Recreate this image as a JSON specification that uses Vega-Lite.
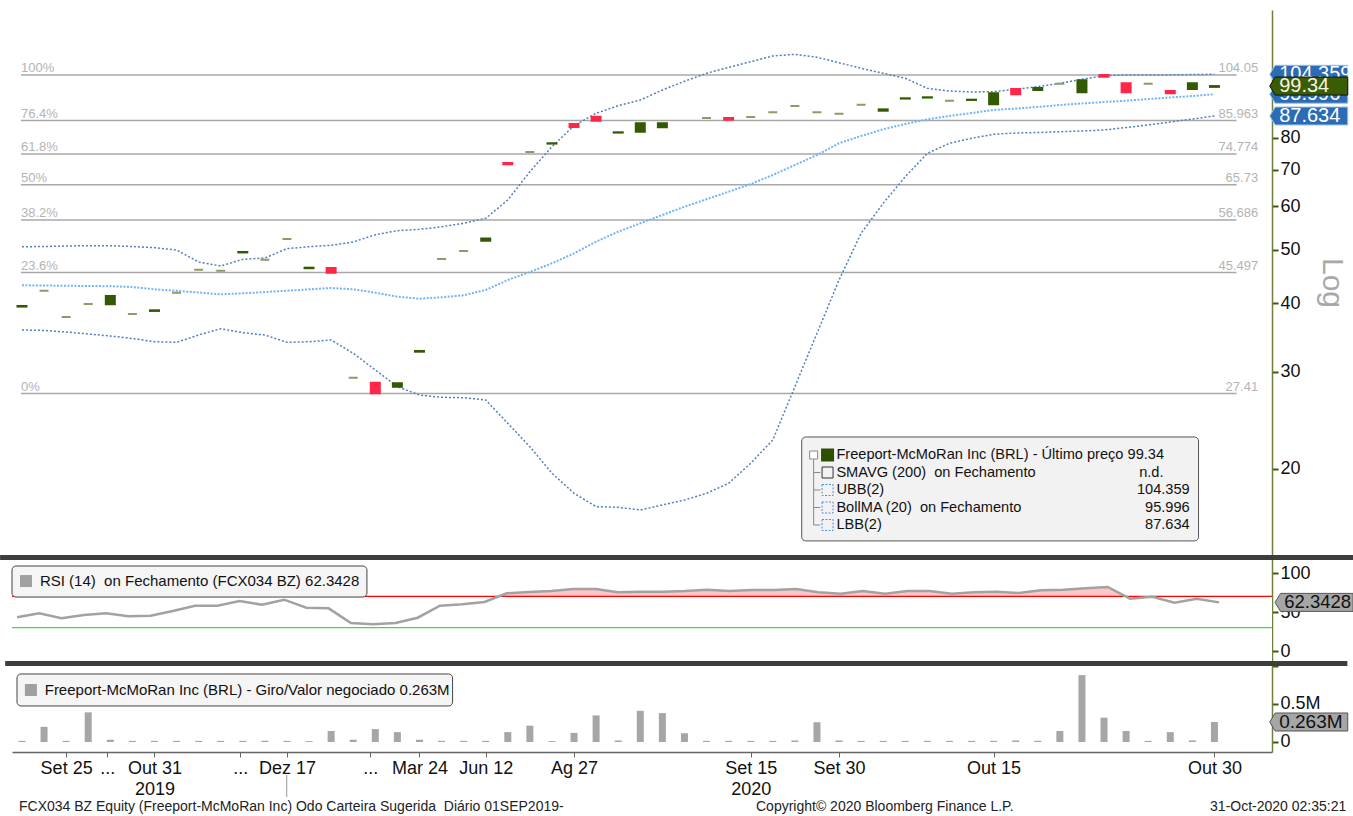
{
"$schema":"https://vega.github.io/schema/vega-lite/v6.json",
"padding":{"left":0,"top":10,"right":0,"bottom":0},
"background":"#ffffff",
"bounds":"flush",
"spacing":0,
"config":{"view":{"stroke":null},"font":"Liberation Sans","axis":{"grid":false,"labelFont":"Liberation Sans","titleFont":"Liberation Sans"}},
"resolve":{"scale":{"x":"independent","y":"independent"}},
"datasets":{
"px":[
{"i":0,"o":39.45,"c":39.55,"u":50.69,"m":43.13,"l":35.77,"rsi":43.2,"vol":0.015},
{"i":1,"o":42.16,"c":42.16,"u":50.73,"m":43.09,"l":35.70,"rsi":48.3,"vol":0.20},
{"i":2,"o":37.77,"c":37.77,"u":50.84,"m":43.04,"l":35.47,"rsi":41.9,"vol":0.015},
{"i":3,"o":39.88,"c":39.88,"u":50.91,"m":43.01,"l":35.17,"rsi":46.2,"vol":0.39},
{"i":4,"o":39.83,"c":41.24,"u":50.91,"m":42.96,"l":34.88,"rsi":48.3,"vol":0.03},
{"i":5,"o":38.25,"c":38.25,"u":50.73,"m":42.82,"l":34.51,"rsi":44.5,"vol":0.015},
{"i":6,"o":38.74,"c":38.84,"u":50.48,"m":42.41,"l":34.05,"rsi":45.3,"vol":0.015},
{"i":7,"o":41.81,"c":41.81,"u":50.00,"m":42.16,"l":33.97,"rsi":51.3,"vol":0.015},
{"i":8,"o":46.04,"c":46.04,"u":47.55,"m":41.85,"l":35.02,"rsi":58.1,"vol":0.015},
{"i":9,"o":45.85,"c":45.85,"u":46.76,"m":41.53,"l":35.96,"rsi":58.1,"vol":0.015},
{"i":10,"o":49.49,"c":49.59,"u":48.09,"m":41.70,"l":35.37,"rsi":64.1,"vol":0.015},
{"i":11,"o":48.01,"c":48.01,"u":48.35,"m":41.93,"l":35.02,"rsi":59.4,"vol":0.015},
{"i":12,"o":52.36,"c":52.36,"u":50.28,"m":42.16,"l":33.97,"rsi":65.8,"vol":0.015},
{"i":13,"o":46.33,"c":46.43,"u":50.69,"m":42.41,"l":34.05,"rsi":55.5,"vol":0.012},
{"i":14,"o":46.37,"c":45.47,"u":50.99,"m":42.64,"l":34.30,"rsi":54.7,"vol":0.145},
{"i":15,"o":29.29,"c":29.29,"u":51.71,"m":42.41,"l":32.44,"rsi":35.9,"vol":0.03},
{"i":16,"o":28.68,"c":27.45,"u":53.31,"m":41.81,"l":30.26,"rsi":34.2,"vol":0.17},
{"i":17,"o":28.21,"c":28.62,"u":54.21,"m":41.12,"l":28.21,"rsi":35.9,"vol":0.13},
{"i":18,"o":32.66,"c":32.76,"u":54.52,"m":40.78,"l":27.24,"rsi":42.7,"vol":0.03},
{"i":19,"o":48.15,"c":48.15,"u":55.12,"m":41.02,"l":26.98,"rsi":58.1,"vol":0.015},
{"i":20,"o":49.80,"c":49.80,"u":55.92,"m":41.36,"l":26.94,"rsi":59.9,"vol":0.015},
{"i":21,"o":52.0,"c":52.45,"u":57.10,"m":42.29,"l":26.68,"rsi":62.8,"vol":0.015},
{"i":22,"o":71.98,"c":71.59,"u":61.65,"m":44.10,"l":24.20,"rsi":74.0,"vol":0.13},
{"i":23,"o":75.37,"c":75.37,"u":69.40,"m":45.60,"l":21.94,"rsi":75.6,"vol":0.215},
{"i":24,"o":78.07,"c":78.17,"u":77.06,"m":47.29,"l":19.63,"rsi":76.9,"vol":0.012},
{"i":25,"o":84.75,"c":83.69,"u":84.15,"m":49.31,"l":18.05,"rsi":79.5,"vol":0.12},
{"i":26,"o":87.38,"c":85.92,"u":88.63,"m":51.77,"l":17.07,"rsi":79.5,"vol":0.35},
{"i":27,"o":81.75,"c":81.85,"u":91.49,"m":53.98,"l":17.02,"rsi":75.3,"vol":0.02},
{"i":28,"o":82.06,"c":85.00,"u":93.71,"m":55.92,"l":16.83,"rsi":76.0,"vol":0.41},
{"i":29,"o":83.59,"c":85.00,"u":97.71,"m":57.89,"l":17.19,"rsi":76.0,"vol":0.38},
{"i":30,"o":null,"c":null,"u":101.34,"m":59.94,"l":17.55,"rsi":76.9,"vol":0.115},
{"i":31,"o":86.91,"c":86.91,"u":104.79,"m":61.83,"l":18.05,"rsi":78.6,"vol":0.015},
{"i":32,"o":86.91,"c":86.29,"u":107.46,"m":63.82,"l":18.82,"rsi":76.9,"vol":0.015},
{"i":33,"o":87.27,"c":87.27,"u":110.01,"m":65.92,"l":20.47,"rsi":78.2,"vol":0.015},
{"i":34,"o":89.01,"c":89.01,"u":112.66,"m":68.44,"l":22.57,"rsi":78.2,"vol":0.015},
{"i":35,"o":91.39,"c":91.39,"u":113.47,"m":71.38,"l":28.21,"rsi":79.5,"vol":0.02},
{"i":36,"o":89.01,"c":89.01,"u":112.05,"m":74.43,"l":35.27,"rsi":75.3,"vol":0.26},
{"i":37,"o":88.48,"c":88.48,"u":109.54,"m":78.17,"l":44.10,"rsi":73.5,"vol":0.02},
{"i":38,"o":91.88,"c":91.88,"u":107.01,"m":80.60,"l":53.63,"rsi":76.9,"vol":0.015},
{"i":39,"o":89.6,"c":90.1,"u":104.79,"m":82.89,"l":60.80,"rsi":73.5,"vol":0.015},
{"i":40,"o":94.27,"c":94.37,"u":102.62,"m":84.75,"l":67.97,"rsi":76.9,"vol":0.015},
{"i":41,"o":94.67,"c":94.77,"u":98.41,"m":86.43,"l":74.96,"rsi":76.9,"vol":0.015},
{"i":42,"o":93.44,"c":93.44,"u":97.31,"m":87.63,"l":78.17,"rsi":73.5,"vol":0.015},
{"i":43,"o":93.73,"c":93.83,"u":96.90,"m":88.74,"l":79.83,"rsi":75.3,"vol":0.015},
{"i":44,"o":92.03,"c":96.37,"u":97.03,"m":89.87,"l":81.17,"rsi":76.0,"vol":0.015},
{"i":45,"o":98.13,"c":95.97,"u":98.00,"m":90.43,"l":81.61,"rsi":74.4,"vol":0.02},
{"i":46,"o":97.71,"c":98.55,"u":99.08,"m":91.00,"l":81.78,"rsi":77.8,"vol":0.015},
{"i":47,"o":100.32,"c":100.32,"u":100.49,"m":91.77,"l":82.06,"rsi":78.6,"vol":0.145},
{"i":48,"o":96.78,"c":101.76,"u":102.20,"m":92.35,"l":82.30,"rsi":80.4,"vol":0.88},
{"i":49,"o":104.05,"c":103.31,"u":103.75,"m":92.93,"l":82.65,"rsi":82.1,"vol":0.32},
{"i":50,"o":100.49,"c":96.78,"u":104.05,"m":93.44,"l":83.51,"rsi":67.1,"vol":0.145},
{"i":51,"o":100.32,"c":100.32,"u":104.05,"m":94.10,"l":84.40,"rsi":69.6,"vol":0.015},
{"i":52,"o":97.31,"c":96.40,"u":104.10,"m":94.70,"l":85.47,"rsi":61.9,"vol":0.13},
{"i":53,"o":98.13,"c":100.49,"u":104.25,"m":95.29,"l":86.54,"rsi":67.1,"vol":0.02},
{"i":54,"o":99.0,"c":99.34,"u":104.359,"m":95.996,"l":87.634,"rsi":62.3428,"vol":0.263}
],
"fib":[
{"lvl":"100%","v":104.05,"lab":"104.05"},
{"lvl":"76.4%","v":85.963,"lab":"85.963"},
{"lvl":"61.8%","v":74.774,"lab":"74.774"},
{"lvl":"50%","v":65.73,"lab":"65.73"},
{"lvl":"38.2%","v":56.686,"lab":"56.686"},
{"lvl":"23.6%","v":45.497,"lab":"45.497"},
{"lvl":"0%","v":27.41,"lab":"27.41"}
],
"tags":[
{"s":"UBB","v":104.359,"t":"104.359"},
{"s":"BollMA","v":95.996,"t":"95.996"},
{"s":"LBB","v":87.634,"t":"87.634"},
{"s":"Last","v":99.34,"t":"99.34"}
],
"leg":[
{"r":0,"t":"Freeport-McMoRan Inc (BRL) - Último preço 99.34","v":"","nd":""},
{"r":1,"t":"SMAVG (200)\u00a0 on Fechamento","v":"","nd":"n.d."},
{"r":2,"t":"UBB(2)","v":"104.359","nd":""},
{"r":3,"t":"BollMA (20)\u00a0 on Fechamento","v":"95.996","nd":""},
{"r":4,"t":"LBB(2)","v":"87.634","nd":""}
],
"one":[{"k":1}]
},
"vconcat":[
{
"width":1260,"height":545,
"resolve":{"scale":{"y":"independent"}},
"layer":[
{"layer":[
{"data":{"name":"fib"},"mark":{"type":"rule","color":"#a8a8a8","strokeWidth":1.5},
"encoding":{"x":{"datum":-0.045,"type":"quantitative","scale":{"domain":[-0.225,56.38],"nice":false,"zero":false},"axis":null},"x2":{"datum":55.0},
"y":{"field":"v","type":"quantitative","scale":{"type":"log","domain":[13.94,136.6],"nice":false},
"axis":{"orient":"right","values":[20,30,40,50,60,70,80],"format":"d","labelFontSize":18,"labelColor":"#111111","domainColor":"#6e8040","domainWidth":1.5,"tickColor":"#3d5a10","tickSize":6,"tickWidth":2,"labelPadding":2,"title":"Log","titleFontSize":30,"titleColor":"#a8a8a8","titleFontWeight":"normal","titlePadding":16}}}},
{"data":{"name":"fib"},"mark":{"type":"text","align":"left","baseline":"alphabetic","dy":-3,"fontSize":13,"color":"#b4b4b4"},
"encoding":{"x":{"datum":-0.045,"type":"quantitative","scale":{"domain":[-0.225,56.38],"nice":false,"zero":false},"axis":null},
"y":{"field":"v","type":"quantitative","scale":{"type":"log","domain":[13.94,136.6],"nice":false}},"text":{"field":"lvl"}}},
{"data":{"name":"fib"},"mark":{"type":"text","align":"right","baseline":"alphabetic","dy":-3,"fontSize":13,"color":"#b4b4b4"},
"encoding":{"x":{"datum":55.98,"type":"quantitative","scale":{"domain":[-0.225,56.38],"nice":false,"zero":false},"axis":null},
"y":{"field":"v","type":"quantitative","scale":{"type":"log","domain":[13.94,136.6],"nice":false}},"text":{"field":"lab"}}},
{"data":{"name":"px"},"mark":{"type":"line","color":"#4f7fc0","strokeWidth":1.5,"strokeDash":[2,2]},
"encoding":{"x":{"field":"i","type":"quantitative","scale":{"domain":[-0.225,56.38],"nice":false,"zero":false},"axis":null},
"y":{"field":"u","type":"quantitative","scale":{"type":"log","domain":[13.94,136.6],"nice":false}}}},
{"data":{"name":"px"},"mark":{"type":"line","color":"#6fb4fa","strokeWidth":2,"strokeDash":[2,1.5]},
"encoding":{"x":{"field":"i","type":"quantitative","scale":{"domain":[-0.225,56.38],"nice":false,"zero":false},"axis":null},
"y":{"field":"m","type":"quantitative","scale":{"type":"log","domain":[13.94,136.6],"nice":false}}}},
{"data":{"name":"px"},"mark":{"type":"line","color":"#4f7fc0","strokeWidth":1.5,"strokeDash":[2,2]},
"encoding":{"x":{"field":"i","type":"quantitative","scale":{"domain":[-0.225,56.38],"nice":false,"zero":false},"axis":null},
"y":{"field":"l","type":"quantitative","scale":{"type":"log","domain":[13.94,136.6],"nice":false}}}},
{"data":{"name":"px"},"transform":[{"filter":"datum.o != null"}],"mark":{"type":"bar","width":9,"strokeWidth":2},
"encoding":{"x":{"field":"i","type":"quantitative","scale":{"domain":[-0.225,56.38],"nice":false,"zero":false},"axis":null},
"y":{"field":"o","type":"quantitative","scale":{"type":"log","domain":[13.94,136.6],"nice":false}},"y2":{"field":"c"},
"fill":{"condition":[{"test":"datum.c > datum.o","value":"#335a00"},{"test":"datum.c < datum.o","value":"#ff2648"}],"value":"#8c9b6a"},
"stroke":{"condition":[{"test":"datum.c > datum.o","value":"#335a00"},{"test":"datum.c < datum.o","value":"#ff2648"}],"value":"#8c9b6a"}}},
{"data":{"name":"tags"},"transform":[{"filter":"datum.s != 'Last'"}],
"mark":{"type":"point","shape":"M -1 0 L -0.86 -0.2308 L 1 -0.2308 L 1 0.2308 L -0.86 0.2308 Z","size":6084,"filled":true,"fill":"#2b6cb4","stroke":"#9cc3ec","strokeWidth":1,"opacity":1},
"encoding":{"x":{"datum":58.27,"type":"quantitative","scale":{"domain":[-0.225,56.38],"nice":false,"zero":false},"axis":null},
"y":{"field":"v","type":"quantitative","scale":{"type":"log","domain":[13.94,136.6],"nice":false}}}},
{"data":{"name":"tags"},"transform":[{"filter":"datum.s != 'Last'"}],
"mark":{"type":"text","align":"left","baseline":"middle","fontSize":20,"color":"#ffffff"},
"encoding":{"x":{"datum":56.93,"type":"quantitative","scale":{"domain":[-0.225,56.38],"nice":false,"zero":false},"axis":null},
"y":{"field":"v","type":"quantitative","scale":{"type":"log","domain":[13.94,136.6],"nice":false}},"text":{"field":"t"}}},
{"data":{"name":"tags"},"transform":[{"filter":"datum.s == 'Last'"}],
"mark":{"type":"point","shape":"M -1 0 L -0.86 -0.2308 L 1 -0.2308 L 1 0.2308 L -0.86 0.2308 Z","size":6084,"filled":true,"fill":"#3a5c05","stroke":"#111111","strokeWidth":1,"opacity":1},
"encoding":{"x":{"datum":58.27,"type":"quantitative","scale":{"domain":[-0.225,56.38],"nice":false,"zero":false},"axis":null},
"y":{"field":"v","type":"quantitative","scale":{"type":"log","domain":[13.94,136.6],"nice":false}}}},
{"data":{"name":"tags"},"transform":[{"filter":"datum.s == 'Last'"}],
"mark":{"type":"text","align":"left","baseline":"middle","fontSize":20,"color":"#f4f4e0"},
"encoding":{"x":{"datum":56.93,"type":"quantitative","scale":{"domain":[-0.225,56.38],"nice":false,"zero":false},"axis":null},
"y":{"field":"v","type":"quantitative","scale":{"type":"log","domain":[13.94,136.6],"nice":false}},"text":{"field":"t"}}}
]},
{"layer":[
{"data":{"name":"one"},"mark":{"type":"rect","fill":"#f2f2f2","stroke":"#555555","strokeWidth":1,"cornerRadius":4},
"encoding":{"x":{"datum":35.31,"type":"quantitative","scale":{"domain":[-0.225,56.38],"nice":false,"zero":false},"axis":null},"x2":{"datum":53.28},
"y":{"datum":-1.03,"type":"quantitative","scale":{"domain":[-25.43,5.714],"reverse":true,"nice":false,"zero":false},"axis":null},"y2":{"datum":4.91}}},
{"data":{"name":"one"},"mark":{"type":"rule","color":"#888888","strokeWidth":1},
"encoding":{"x":{"datum":35.85,"type":"quantitative","scale":{"domain":[-0.225,56.38],"nice":false,"zero":false},"axis":null},
"y":{"datum":0.25,"type":"quantitative","scale":{"domain":[-25.43,5.714],"reverse":true,"nice":false,"zero":false},"axis":null},"y2":{"datum":4.0}}},
{"data":{"name":"leg"},"transform":[{"filter":"datum.r > 0"}],"mark":{"type":"rule","color":"#888888","strokeWidth":1},
"encoding":{"x":{"datum":35.85,"type":"quantitative","scale":{"domain":[-0.225,56.38],"nice":false,"zero":false},"axis":null},"x2":{"datum":36.15},
"y":{"field":"r","type":"quantitative","scale":{"domain":[-25.43,5.714],"reverse":true,"nice":false,"zero":false},"axis":null}}},
{"data":{"name":"leg"},"transform":[{"filter":"datum.r == 0"}],"mark":{"type":"point","shape":"square","size":64,"filled":true,"fill":"#ffffff","stroke":"#888888","strokeWidth":1,"opacity":1},
"encoding":{"x":{"datum":35.85,"type":"quantitative","scale":{"domain":[-0.225,56.38],"nice":false,"zero":false},"axis":null},
"y":{"field":"r","type":"quantitative","scale":{"domain":[-25.43,5.714],"reverse":true,"nice":false,"zero":false},"axis":null}}},
{"data":{"name":"leg"},"transform":[{"filter":"datum.r == 0"}],"mark":{"type":"point","shape":"square","size":169,"filled":true,"fill":"#2d5000","opacity":1},
"encoding":{"x":{"datum":36.48,"type":"quantitative","scale":{"domain":[-0.225,56.38],"nice":false,"zero":false},"axis":null},
"y":{"field":"r","type":"quantitative","scale":{"domain":[-25.43,5.714],"reverse":true,"nice":false,"zero":false},"axis":null}}},
{"data":{"name":"leg"},"transform":[{"filter":"datum.r == 1"}],"mark":{"type":"point","shape":"square","size":121,"filled":false,"stroke":"#333333","strokeWidth":1,"opacity":1},
"encoding":{"x":{"datum":36.48,"type":"quantitative","scale":{"domain":[-0.225,56.38],"nice":false,"zero":false},"axis":null},
"y":{"field":"r","type":"quantitative","scale":{"domain":[-25.43,5.714],"reverse":true,"nice":false,"zero":false},"axis":null}}},
{"data":{"name":"leg"},"transform":[{"filter":"datum.r >= 2"}],"mark":{"type":"point","shape":"square","size":121,"filled":false,"stroke":"#4f8fd6","strokeWidth":1,"strokeDash":[2,1.5],"opacity":1},
"encoding":{"x":{"datum":36.48,"type":"quantitative","scale":{"domain":[-0.225,56.38],"nice":false,"zero":false},"axis":null},
"y":{"field":"r","type":"quantitative","scale":{"domain":[-25.43,5.714],"reverse":true,"nice":false,"zero":false},"axis":null}}},
{"data":{"name":"leg"},"mark":{"type":"text","align":"left","baseline":"middle","fontSize":14.6,"color":"#111111"},
"encoding":{"x":{"datum":36.88,"type":"quantitative","scale":{"domain":[-0.225,56.38],"nice":false,"zero":false},"axis":null},
"y":{"field":"r","type":"quantitative","scale":{"domain":[-25.43,5.714],"reverse":true,"nice":false,"zero":false},"axis":null},"text":{"field":"t"}}},
{"data":{"name":"leg"},"mark":{"type":"text","align":"right","baseline":"middle","fontSize":14.6,"color":"#111111"},
"encoding":{"x":{"datum":52.88,"type":"quantitative","scale":{"domain":[-0.225,56.38],"nice":false,"zero":false},"axis":null},
"y":{"field":"r","type":"quantitative","scale":{"domain":[-25.43,5.714],"reverse":true,"nice":false,"zero":false},"axis":null},"text":{"field":"v"}}},
{"data":{"name":"leg"},"mark":{"type":"text","align":"left","baseline":"middle","fontSize":14.6,"color":"#111111"},
"encoding":{"x":{"datum":50.59,"type":"quantitative","scale":{"domain":[-0.225,56.38],"nice":false,"zero":false},"axis":null},
"y":{"field":"r","type":"quantitative","scale":{"domain":[-25.43,5.714],"reverse":true,"nice":false,"zero":false},"axis":null},"text":{"field":"nd"}}}
]}
]
},
{
"width":1260,"height":106,
"layer":[
{"data":{"name":"one"},"mark":{"type":"rect","color":"#3d3d3d"},
"encoding":{"x":{"datum":-0.76,"type":"quantitative","scale":{"domain":[-0.225,56.38],"nice":false,"zero":false},"axis":null},"x2":{"datum":60.02},
"y":{"datum":123.1,"type":"quantitative","scale":{"domain":[-12.82,123.1],"nice":false,"zero":false},
"axis":{"orient":"right","values":[0,25,50,75,100],"labelExpr":"datum.value == 0 || datum.value == 50 || datum.value == 100 ? datum.label : ''","labelFontSize":18,"labelColor":"#111111","domainColor":"#6e8040","domainWidth":1.5,"tickColor":"#3d5a10","tickSize":6,"tickWidth":2,"labelPadding":2,"title":null}},"y2":{"datum":116.7}}},
{"data":{"name":"px"},"mark":{"type":"area","color":"#ffc6c6","opacity":1},
"encoding":{"x":{"field":"i","type":"quantitative","scale":{"domain":[-0.225,56.38],"nice":false,"zero":false},"axis":null},
"y":{"field":"rsi","type":"quantitative","scale":{"domain":[-12.82,123.1],"nice":false,"zero":false}},"y2":{"datum":70}}},
{"data":{"name":"one"},"mark":{"type":"rect","color":"#ffffff"},
"encoding":{"x":{"datum":-0.225,"type":"quantitative","scale":{"domain":[-0.225,56.38],"nice":false,"zero":false},"axis":null},"x2":{"datum":56.38},
"y":{"datum":70,"type":"quantitative","scale":{"domain":[-12.82,123.1],"nice":false,"zero":false}},"y2":{"datum":-12.82}}},
{"data":{"name":"one"},"mark":{"type":"rule","color":"#ff0000","strokeWidth":1.3},
"encoding":{"x":{"datum":-0.225,"type":"quantitative","scale":{"domain":[-0.225,56.38],"nice":false,"zero":false},"axis":null},"x2":{"datum":56.38},
"y":{"datum":70,"type":"quantitative","scale":{"domain":[-12.82,123.1],"nice":false,"zero":false}}}},
{"data":{"name":"one"},"mark":{"type":"rule","color":"#2de82d","strokeWidth":1.3},
"encoding":{"x":{"datum":-0.225,"type":"quantitative","scale":{"domain":[-0.225,56.38],"nice":false,"zero":false},"axis":null},"x2":{"datum":56.38},
"y":{"datum":30,"type":"quantitative","scale":{"domain":[-12.82,123.1],"nice":false,"zero":false}}}},
{"data":{"name":"px"},"mark":{"type":"line","color":"#a2a2a2","strokeWidth":2.5},
"encoding":{"x":{"field":"i","type":"quantitative","scale":{"domain":[-0.225,56.38],"nice":false,"zero":false},"axis":null},
"y":{"field":"rsi","type":"quantitative","scale":{"domain":[-12.82,123.1],"nice":false,"zero":false}}}},
{"data":{"name":"one"},"mark":{"type":"rect","fill":"#f5f5f5","stroke":"#444444","strokeWidth":1,"cornerRadius":4},
"encoding":{"x":{"datum":-0.225,"type":"quantitative","scale":{"domain":[-0.225,56.38],"nice":false,"zero":false},"axis":null},"x2":{"datum":15.72},
"y":{"datum":109.0,"type":"quantitative","scale":{"domain":[-12.82,123.1],"nice":false,"zero":false}},"y2":{"datum":69.2}}},
{"data":{"name":"one"},"mark":{"type":"point","shape":"square","size":144,"filled":true,"fill":"#a0a0a0","opacity":1},
"encoding":{"x":{"datum":0.404,"type":"quantitative","scale":{"domain":[-0.225,56.38],"nice":false,"zero":false},"axis":null},
"y":{"datum":89.7,"type":"quantitative","scale":{"domain":[-12.82,123.1],"nice":false,"zero":false}}}},
{"data":{"name":"one"},"mark":{"type":"text","align":"left","baseline":"middle","fontSize":15,"color":"#111111","text":"RSI (14)\u00a0 on Fechamento (FCX034 BZ) 62.3428"},
"encoding":{"x":{"datum":1.03,"type":"quantitative","scale":{"domain":[-0.225,56.38],"nice":false,"zero":false},"axis":null},
"y":{"datum":89.7,"type":"quantitative","scale":{"domain":[-12.82,123.1],"nice":false,"zero":false}}}},
{"data":{"name":"one"},"mark":{"type":"point","shape":"M -1 0 L -0.86 -0.2308 L 1 -0.2308 L 1 0.2308 L -0.86 0.2308 Z","size":6084,"filled":true,"fill":"#a6a6a6","stroke":"#555555","strokeWidth":1,"opacity":1},
"encoding":{"x":{"datum":58.27,"type":"quantitative","scale":{"domain":[-0.225,56.38],"nice":false,"zero":false},"axis":null},
"y":{"datum":62.3428,"type":"quantitative","scale":{"domain":[-12.82,123.1],"nice":false,"zero":false}}}},
{"data":{"name":"one"},"mark":{"type":"text","align":"left","baseline":"middle","fontSize":18.5,"color":"#111111","text":"62.3428"},
"encoding":{"x":{"datum":56.93,"type":"quantitative","scale":{"domain":[-0.225,56.38],"nice":false,"zero":false},"axis":null},
"y":{"datum":62.3428,"type":"quantitative","scale":{"domain":[-12.82,123.1],"nice":false,"zero":false}}}}
]
},
{
"width":1260,"height":91,
"layer":[
{"data":{"name":"px"},"mark":{"type":"bar","width":7,"color":"#a6a6a6"},
"encoding":{"x":{"field":"i","type":"quantitative","scale":{"domain":[-0.225,56.38],"nice":false,"zero":false},
"axis":{"orient":"bottom","values":[2,3.86,6,9.88,12,15.77,18,21,25,33,37,44,54],
"labelExpr":"datum.value == 2 ? 'Set 25' : (datum.value == 3.86 || datum.value == 9.88 || datum.value == 15.77) ? '...' : datum.value == 6 ? ['Out 31','2019'] : datum.value == 12 ? 'Dez 17' : datum.value == 18 ? 'Mar 24' : datum.value == 21 ? 'Jun 12' : datum.value == 25 ? 'Ag 27' : datum.value == 33 ? ['Set 15','2020'] : datum.value == 37 ? 'Set 30' : datum.value == 44 ? 'Out 15' : 'Out 30'",
"labelFontSize":18,"labelColor":"#111111","domainColor":"#666666","domainWidth":1.5,"tickColor":"#666666","tickSize":5,"labelPadding":2,"labelLineHeight":21,"labelOverlap":false,"labelFlush":false,"labelBound":false,"title":null}},
"y":{"field":"vol","type":"quantitative","scale":{"domain":[-0.1316,1.0658],"nice":false,"zero":false},
"axis":{"orient":"right","values":[0,0.25,0.5,0.75,1],"labelExpr":"datum.value == 0.5 ? '0.5M' : datum.value == 0 ? '0' : ''","labelFontSize":18,"labelColor":"#111111","domainColor":"#6e8040","domainWidth":1.5,"tickColor":"#3d5a10","tickSize":6,"tickWidth":2,"labelPadding":2,"title":null}},
"y2":{"datum":0}}},
{"data":{"name":"one"},"mark":{"type":"rect","color":"#3d3d3d"},
"encoding":{"x":{"datum":-0.76,"type":"quantitative","scale":{"domain":[-0.225,56.38],"nice":false,"zero":false}},"x2":{"datum":60.02},
"y":{"datum":1.0658,"type":"quantitative","scale":{"domain":[-0.1316,1.0658],"nice":false,"zero":false}},"y2":{"datum":1.0}}},
{"data":{"name":"one"},"mark":{"type":"rect","fill":"#f5f5f5","stroke":"#444444","strokeWidth":1,"cornerRadius":4},
"encoding":{"x":{"datum":-0.225,"type":"quantitative","scale":{"domain":[-0.225,56.38],"nice":false,"zero":false}},"x2":{"datum":19.5},
"y":{"datum":0.895,"type":"quantitative","scale":{"domain":[-0.1316,1.0658],"nice":false,"zero":false}},"y2":{"datum":0.474}}},
{"data":{"name":"one"},"mark":{"type":"point","shape":"square","size":144,"filled":true,"fill":"#a0a0a0","opacity":1},
"encoding":{"x":{"datum":0.404,"type":"quantitative","scale":{"domain":[-0.225,56.38],"nice":false,"zero":false}},
"y":{"datum":0.684,"type":"quantitative","scale":{"domain":[-0.1316,1.0658],"nice":false,"zero":false}}}},
{"data":{"name":"one"},"mark":{"type":"text","align":"left","baseline":"middle","fontSize":15,"color":"#111111","text":"Freeport-McMoRan Inc (BRL) - Giro/Valor negociado 0.263M"},
"encoding":{"x":{"datum":1.03,"type":"quantitative","scale":{"domain":[-0.225,56.38],"nice":false,"zero":false}},
"y":{"datum":0.684,"type":"quantitative","scale":{"domain":[-0.1316,1.0658],"nice":false,"zero":false}}}},
{"data":{"name":"one"},"mark":{"type":"point","shape":"M -1 0 L -0.86 -0.2308 L 1 -0.2308 L 1 0.2308 L -0.86 0.2308 Z","size":6084,"filled":true,"fill":"#a6a6a6","stroke":"#555555","strokeWidth":1,"opacity":1},
"encoding":{"x":{"datum":58.27,"type":"quantitative","scale":{"domain":[-0.225,56.38],"nice":false,"zero":false}},
"y":{"datum":0.263,"type":"quantitative","scale":{"domain":[-0.1316,1.0658],"nice":false,"zero":false}}}},
{"data":{"name":"one"},"mark":{"type":"text","align":"left","baseline":"middle","fontSize":19,"color":"#111111","text":"0.263M"},
"encoding":{"x":{"datum":56.93,"type":"quantitative","scale":{"domain":[-0.225,56.38],"nice":false,"zero":false}},
"y":{"datum":0.263,"type":"quantitative","scale":{"domain":[-0.1316,1.0658],"nice":false,"zero":false}}}},
{"data":{"name":"one"},"mark":{"type":"rule","color":"#999999","strokeWidth":1},
"encoding":{"x":{"datum":11.99,"type":"quantitative","scale":{"domain":[-0.225,56.38],"nice":false,"zero":false}},
"y":{"datum":-0.434,"type":"quantitative","scale":{"domain":[-0.1316,1.0658],"nice":false,"zero":false}},"y2":{"datum":-0.724}}},
{"data":{"name":"one"},"mark":{"type":"text","align":"left","baseline":"middle","fontSize":14,"color":"#222222","text":"FCX034 BZ Equity (Freeport-McMoRan Inc) Odo Carteira Sugerida\u00a0 Diário 01SEP2019-"},
"encoding":{"x":{"datum":-0.135,"type":"quantitative","scale":{"domain":[-0.225,56.38],"nice":false,"zero":false}},
"y":{"datum":-0.855,"type":"quantitative","scale":{"domain":[-0.1316,1.0658],"nice":false,"zero":false}}}},
{"data":{"name":"one"},"mark":{"type":"text","align":"left","baseline":"middle","fontSize":14,"color":"#222222","text":"Copyright© 2020 Bloomberg Finance L.P."},
"encoding":{"x":{"datum":33.24,"type":"quantitative","scale":{"domain":[-0.225,56.38],"nice":false,"zero":false}},
"y":{"datum":-0.855,"type":"quantitative","scale":{"domain":[-0.1316,1.0658],"nice":false,"zero":false}}}},
{"data":{"name":"one"},"mark":{"type":"text","align":"right","baseline":"middle","fontSize":14,"color":"#222222","text":"31-Oct-2020 02:35:21"},
"encoding":{"x":{"datum":59.97,"type":"quantitative","scale":{"domain":[-0.225,56.38],"nice":false,"zero":false}},
"y":{"datum":-0.855,"type":"quantitative","scale":{"domain":[-0.1316,1.0658],"nice":false,"zero":false}}}}
]
}
]
}
